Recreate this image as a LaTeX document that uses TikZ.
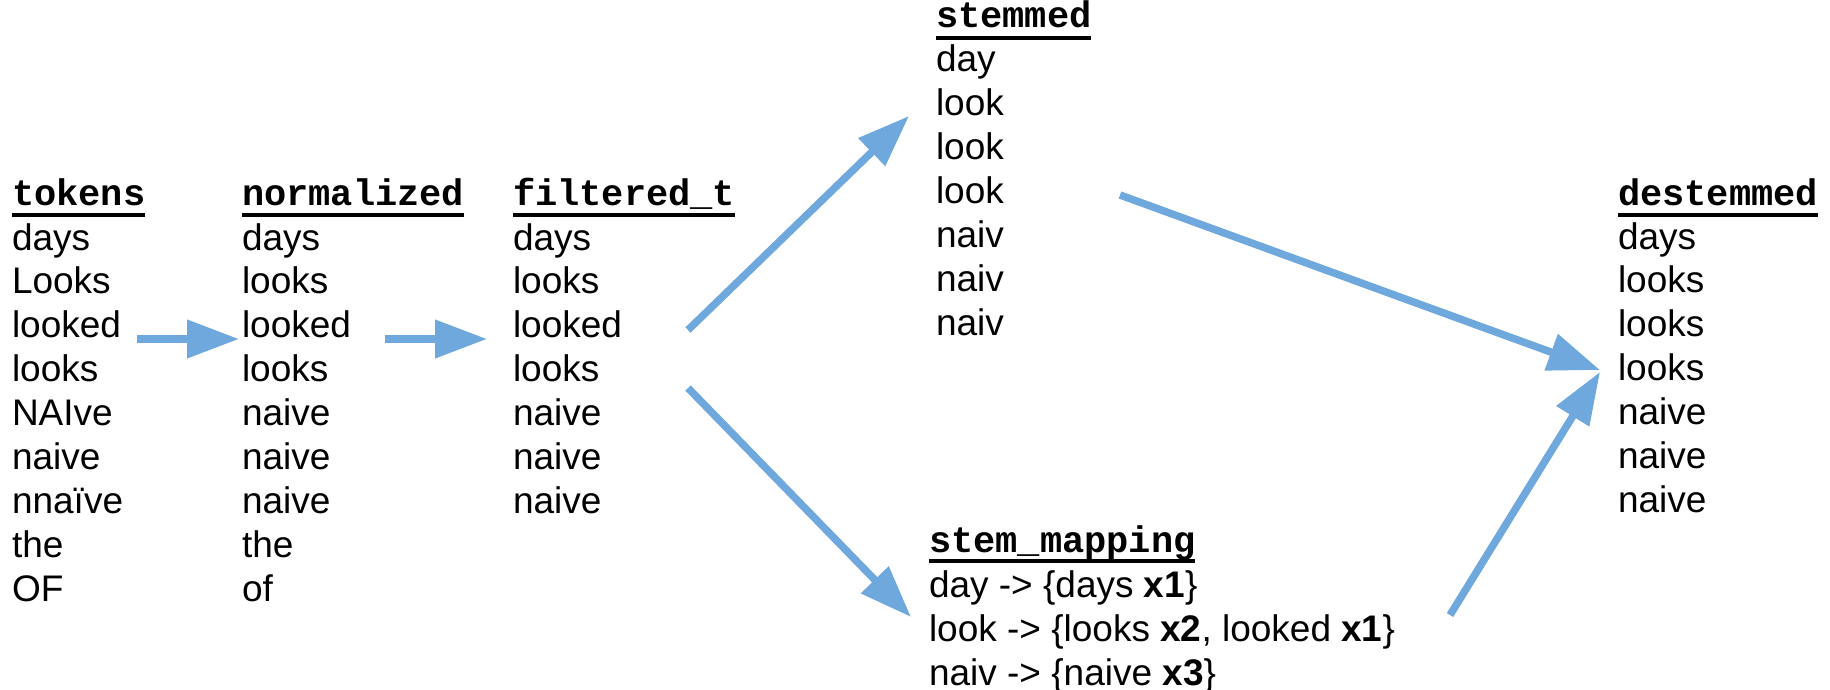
\documentclass[tikz,border=0pt]{standalone}
\usepackage{fontspec}
\setmainfont{Liberation Sans}
\setmonofont{Liberation Mono}
\usetikzlibrary{arrows.meta}
\definecolor{arrowblue}{RGB}{111,168,220}
\tikzset{
  cell/.style={anchor=base west, inner sep=0pt, outer sep=0pt, font=\fontsize{18.5}{22}\selectfont},
  hdr/.style={cell, font=\fontsize{18.5}{22}\selectfont\ttfamily\bfseries},
  uline/.style={line width=2pt, black},
  flow/.style={arrowblue, line width=3.75pt, -{Triangle[length=26pt,width=18.5pt]}},
}
\newcommand\mkcol[6]{%
  \node[hdr] (#1h) at (#2,#3) {#5};
  \draw[uline] ([yshift=-4.8pt]#1h.base west) -- ([yshift=-4.8pt]#1h.base east);
  \foreach \w [count=\i] in {#6} {
    \node[cell] (#1\i) at (#2,{#4-43.9+43.9*\i}) {\w};
  }
}
\begin{document}
\begin{tikzpicture}[x=0.5pt,y=-0.5pt]
\useasboundingbox (0,0) rectangle (1830,690);

\mkcol{tok}{12}{205}{250}{tokens}{days,Looks,looked,looks,NAIve,naive,nnaïve,the,OF}
\mkcol{nor}{242}{205}{250}{normalized}{days,looks,looked,looks,naive,naive,naive,the,of}
\mkcol{fil}{513}{205}{250}{filtered\_t}{days,looks,looked,looks,naive,naive,naive}
\mkcol{stm}{936}{28}{72}{stemmed}{day,look,look,look,naiv,naiv,naiv}
\mkcol{des}{1618}{205}{249}{destemmed}{days,looks,looks,looks,naive,naive,naive}

\node[hdr] (maph) at (929,552) {stem\_mapping};
\draw[uline] ([yshift=-4.4pt]maph.base west) -- ([yshift=-4.4pt]maph.base east);
\node[cell] (map1) at (929,597) {day -> \{days \textbf{x1}\}};
\node[cell] (map2) at (929,641) {look -> \{looks \textbf{x2}, looked \textbf{x1}\}};
\node[cell] (map3) at (929,685) {naiv -> \{naive \textbf{x3}\}};

\coordinate (a1s) at (137,339);  \coordinate (a1e) at (239,339);
\coordinate (a2s) at (385,339);  \coordinate (a2e) at (487,339);
\coordinate (a3s) at (688,330);  \coordinate (a3e) at (909,116);
\coordinate (a4s) at (688,388);  \coordinate (a4e) at (911,617);
\coordinate (a5s) at (1120,195); \coordinate (a5e) at (1600,370);
\coordinate (a6s) at (1450,615); \coordinate (a6e) at (1600,372);

\draw[flow] (a1s) -- (a1e);
\draw[flow] (a2s) -- (a2e);
\draw[flow] (a3s) -- (a3e);
\draw[flow] (a4s) -- (a4e);
\draw[flow] (a5s) -- (a5e);
\draw[flow] (a6s) -- (a6e);
\end{tikzpicture}
\end{document}
